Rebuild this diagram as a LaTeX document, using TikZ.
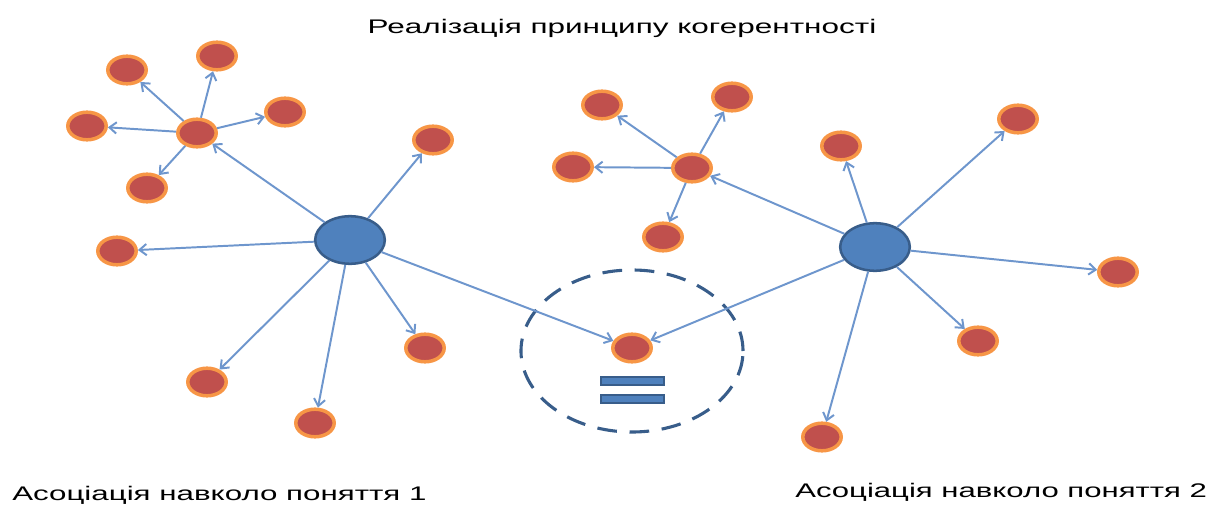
\documentclass[tikz,border=0pt]{standalone}
\usepackage{fontspec}
\setmainfont{Liberation Sans}
\usetikzlibrary{arrows.meta}
\usetikzlibrary{shapes.geometric}
\definecolor{hubblue}{RGB}{79,129,189}
\definecolor{hubedge}{RGB}{56,93,138}
\definecolor{leafred}{RGB}{192,80,77}
\definecolor{leafrim}{RGB}{247,150,70}
\definecolor{linkblue}{RGB}{110,150,205}
\tikzset{leaf/.style = {ellipse, fill=leafred, draw=leafrim, line width=2.5pt,
                        minimum width=0.96cm, minimum height=0.69cm, inner sep=0pt},
         hub/.style = {ellipse, fill=hubblue, draw=hubedge, line width=1.8pt,
                       minimum width=1.74cm, minimum height=1.19cm, inner sep=0pt},
         link/.style = {draw=linkblue, line width=1.4pt,
                        -{Straight Barb[length=5pt, width=8pt]}},
         caption/.style = {font=\fontsize{14}{16}\selectfont, inner sep=0pt}}

\begin{document}
\begin{tikzpicture}[x=0.025cm, y=-0.025cm]
    \useasboundingbox (0,0) rectangle (1213,507);

    \node [caption, anchor=base] (title) at (622,33)
      {\scalebox{1.6}[1]{Реалізація принципу когерентності}};

    % shared concept
    \node [ellipse, draw=hubedge, line width=2.2pt, dash pattern=on 14pt off 9pt,
           minimum width=5.55cm, minimum height=4.05cm] (zone) at (632,351) {};
    \node [leaf] (shared) at (632,348) {};
    \draw [hubedge, fill=hubblue, line width=1pt] (601,377) rectangle (664,385);
    \draw [hubedge, fill=hubblue, line width=1pt] (601,395) rectangle (664,403);

    % first association
    \begin{scope}
      \node [hub] (hubL) at (350,240) {};
      \node [leaf] (subL) at (197,133) {};
      \node [leaf] (sL1) at (127,70) {};
      \node [leaf] (sL2) at (217,56) {};
      \node [leaf] (sL3) at (285,112) {};
      \node [leaf] (sL4) at (87,126) {};
      \node [leaf] (sL5) at (147,188) {};
      \node [leaf] (cL1) at (433,140) {};
      \node [leaf] (cL2) at (117,251) {};
      \node [leaf] (cL3) at (207,382) {};
      \node [leaf] (cL4) at (315,423) {};
      \node [leaf] (cL5) at (425,348) {};

      \draw [link] (subL) -- (sL1);
      \draw [link] (subL) -- (sL2);
      \draw [link] (subL) -- (sL3);
      \draw [link] (subL) -- (sL4);
      \draw [link] (subL) -- (sL5);
      \draw [link] (hubL) -- (subL);
      \draw [link] (hubL) -- (cL1);
      \draw [link] (hubL) -- (cL2);
      \draw [link] (hubL) -- (cL3);
      \draw [link] (hubL) -- (cL4);
      \draw [link] (hubL) -- (cL5);
      \draw [link] (hubL) -- (shared);

      \node [caption, anchor=base west] (nameL) at (12,500)
        {\scalebox{1.59}[1]{Асоціація навколо поняття 1}};
    \end{scope}

    % second association
    \begin{scope}
      \node [hub] (hubR) at (875,247) {};
      \node [leaf] (subR) at (692,168) {};
      \node [leaf] (sR1) at (602,105) {};
      \node [leaf] (sR2) at (732,97) {};
      \node [leaf] (sR3) at (573,167) {};
      \node [leaf] (sR4) at (663,237) {};
      \node [leaf] (cR1) at (841,146) {};
      \node [leaf] (cR2) at (1018,119) {};
      \node [leaf] (cR3) at (1118,272) {};
      \node [leaf] (cR4) at (978,341) {};
      \node [leaf] (cR5) at (822,437) {};

      \draw [link] (subR) -- (sR1);
      \draw [link] (subR) -- (sR2);
      \draw [link] (subR) -- (sR3);
      \draw [link] (subR) -- (sR4);
      \draw [link] (hubR) -- (subR);
      \draw [link] (hubR) -- (cR1);
      \draw [link] (hubR) -- (cR2);
      \draw [link] (hubR) -- (cR3);
      \draw [link] (hubR) -- (cR4);
      \draw [link] (hubR) -- (cR5);
      \draw [link] (hubR) -- (shared);

      \node [caption, anchor=base west] (nameR) at (795,497)
        {\scalebox{1.58}[1]{Асоціація навколо поняття 2}};
    \end{scope}
\end{tikzpicture}
\end{document}
